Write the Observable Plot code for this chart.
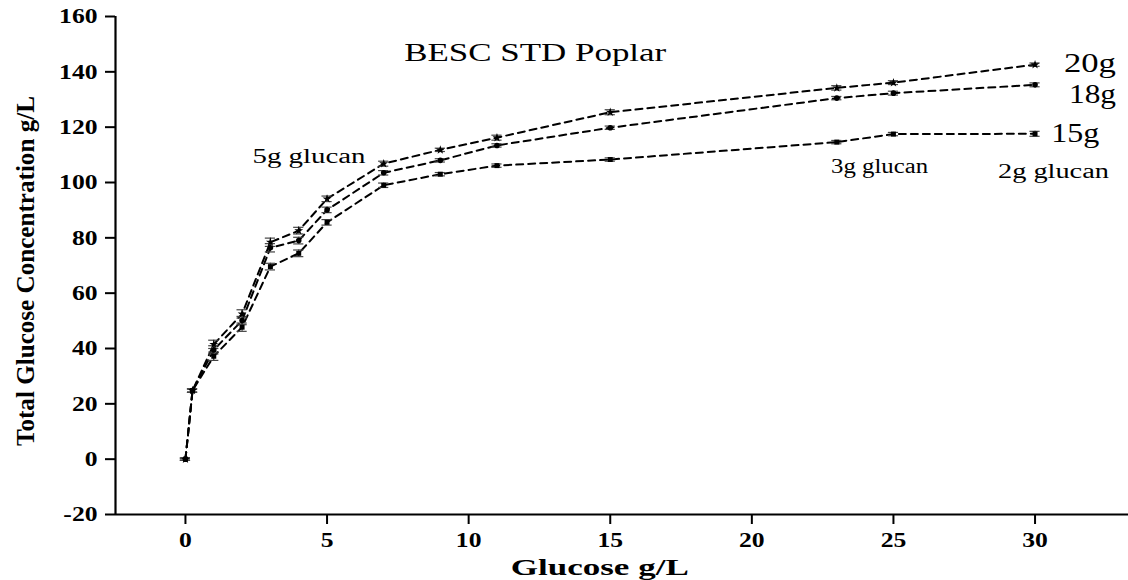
<!DOCTYPE html>
<html><head><meta charset="utf-8">
<script src="https://cdn.jsdelivr.net/npm/d3@7"></script>
<script src="https://cdn.jsdelivr.net/npm/@observablehq/plot@0.6"></script>
<style>
body{margin:0;background:#fff;}
svg text{font-family:"Liberation Serif","Times New Roman",serif;}
</style></head><body><div id="chart"></div>
<script>
// x values (Glucose g/L)
const glucose = [0, 0.25, 1, 2, 3, 4, 5, 7, 9, 11, 15, 23, 25, 30];
// Total glucose concentration, per solids loading
const total20 = [0, 24.8, 41.5, 52.5, 78.4, 82.6, 94.1, 106.8, 111.8, 116.2, 125.4, 134.2, 136.1, 142.6];
const total18 = [0, 24.8, 39.5, 50.1, 76.4, 79.0, 90.1, 103.5, 108.0, 113.4, 119.8, 130.5, 132.3, 135.3];
const total15 = [0, 24.8, 37.2, 47.7, 69.6, 74.4, 85.6, 99.0, 103.0, 106.1, 108.3, 114.6, 117.5, 117.6];
// error bar half-widths
const err20 = [0.4, 0.6, 1.5, 1.5, 1.5, 1.2, 1.0, 0.9, 0.6, 0.9, 0.9, 0.8, 0.7, 0.6];
const err18 = [0.4, 0.6, 1.5, 1.5, 1.5, 1.2, 1.0, 0.8, 0.6, 0.6, 0.6, 0.6, 0.7, 0.7];
const err15 = [0.4, 0.6, 1.5, 1.5, 1.2, 1.2, 1.0, 0.8, 0.6, 0.6, 0.6, 0.6, 0.6, 0.9];
const seriesNames = ["20g", "18g", "15g"];
const xTicks = [0, 5, 10, 15, 20, 25, 30];
const yTicks = [-20, 0, 20, 40, 60, 80, 100, 120, 140, 160];
const title = "BESC STD Poplar";
const xLabel = "Glucose g/L";
const yLabel = "Total Glucose Concentration g/L";
const annotations = [
  {x: 4.36, y: 109.5, text: "5g glucan", len: 113},
  {x: 24.51, y: 105.8, text: "3g glucan", len: 97},
  {x: 30.65, y: 103.8, text: "2g glucan", len: 111}
];
const seriesLabels = [
  {x: 31.02, y: 143.1, text: "20g", len: 52},
  {x: 31.2, y: 131.9, text: "18g", len: 47},
  {x: 30.57, y: 117.8, text: "15g", len: 48}
];

const valuesBySeries = [total20, total18, total15];
const errorsBySeries = [err20, err18, err15];
const symbols = ["star", "circle", "square"];
const rows = seriesNames.flatMap((s, k) => glucose.map((g, i) => ({
  series: s, x: g, y: valuesBySeries[k][i], e: errorsBySeries[k][i], symbol: symbols[k]
})));
const capHalf = 0.18;

const xDomain = [-2.47, 33.3];
const chart = Plot.plot({
  width: 1128, height: 580,
  marginLeft: 115, marginRight: 0, marginTop: 16, marginBottom: 66,
  x: {domain: xDomain},
  y: {domain: [-20, 160]},
  style: {fontFamily: "Liberation Serif, Times New Roman, serif", background: "white", color: "black"},
  marks: [
    Plot.axisY({ticks: yTicks, tickFormat: d => String(d), tickSize: 10, tickPadding: 8, fontSize: 21, fontWeight: "bold", strokeWidth: 2, label: null}),
    Plot.axisX({ticks: xTicks, tickFormat: d => String(d), tickSize: 10, tickPadding: 8, fontSize: 21, fontWeight: "bold", strokeWidth: 2, label: null}),
    Plot.ruleX([xDomain[0]], {strokeWidth: 2.2}),
    Plot.ruleY([-20], {strokeWidth: 2.2}),
    Plot.line(rows, {x: "x", y: "y", z: "series", stroke: "black", strokeWidth: 2, strokeDasharray: "7,5"}),
    Plot.ruleX(rows, {x: "x", y1: d => d.y - d.e, y2: d => d.y + d.e, stroke: "#222", strokeWidth: 1.2}),
    Plot.ruleY(rows, {y: d => d.y - d.e, x1: d => d.x - capHalf, x2: d => d.x + capHalf, stroke: "#444", strokeWidth: 1.2}),
    Plot.ruleY(rows, {y: d => d.y + d.e, x1: d => d.x - capHalf, x2: d => d.x + capHalf, stroke: "#444", strokeWidth: 1.2}),
    Plot.dot(rows, {x: "x", y: "y", symbol: "symbol", fill: "black", r: 2.8}),
    Plot.text([{text: title, len: 262}], {x: () => 12.35, y: () => 147, text: "text", fontSize: 26, className: "fit"}),
    Plot.text(annotations, {x: "x", y: "y", text: "text", fontSize: 20, className: "fit"}),
    Plot.text(seriesLabels, {x: "x", y: "y", text: "text", fontSize: 27, textAnchor: "start", className: "fit"}),
    Plot.text([{text: xLabel, len: 178}], {x: () => 14.63, y: () => -20, text: "text", dy: 53, fontSize: 24, fontWeight: "bold", className: "fit"}),
    Plot.text([yLabel], {frameAnchor: "left", y: () => 68, text: d => d, rotate: -90, dx: -90, textAnchor: "middle", fontSize: 25, fontWeight: "bold", className: "ylab"})
  ]
});
document.getElementById("chart").appendChild(chart);
// The reference image is horizontally stretched; widen horizontal tick text accordingly
const factor = 1.22;
d3.select(chart).selectAll("g[aria-label='x-axis tick label'] text, g[aria-label='y-axis tick label'] text").each(function() {
  const len = this.getComputedTextLength();
  this.setAttribute("textLength", len * factor);
  this.setAttribute("lengthAdjust", "spacingAndGlyphs");
});
// fit annotation texts to their measured widths
const fitGroups = d3.select(chart).selectAll("g.fit").nodes();
const fitData = [[{len: 262}], annotations, seriesLabels, [{len: 178}]];
fitGroups.forEach((g, gi) => {
  d3.select(g).selectAll("text").each(function(_, i) {
    const len = fitData[gi][i] && fitData[gi][i].len;
    if (len) {
      this.setAttribute("textLength", len);
      this.setAttribute("lengthAdjust", "spacingAndGlyphs");
    }
  });
});
d3.select(chart).selectAll("g.ylab text").each(function() {
  this.setAttribute("textLength", 350);
  this.setAttribute("lengthAdjust", "spacingAndGlyphs");
});
</script></body></html>
